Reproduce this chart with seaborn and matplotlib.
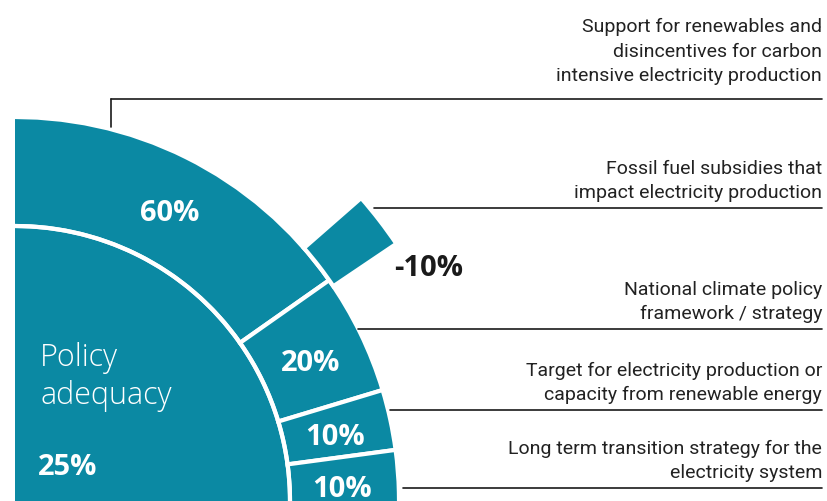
import numpy as np
import matplotlib
matplotlib.use("Agg")
import matplotlib.pyplot as plt
import seaborn as sns

# data
inner_label = "Policy adequacy"
inner_share = 25
outer_labels = [
    "Support for renewables and\ndisincentives for carbon\nintensive electricity production",
    "National climate policy\nframework / strategy",
    "Target for electricity production or\ncapacity from renewable energy",
    "Long term transition strategy for the\nelectricity system",
]
outer_shares = [60, 20, 10, 10]
neg_label = "Fossil fuel subsidies that\nimpact electricity production"
neg_share = -10

# look
teal = "#0B89A3"
deg_per_pct = 0.915
r_inner, r_outer, r_neg = 275, 384, 460
W, H = 827, 502
cx = 15  # pie centre (pixels from left, on the bottom edge)

sns.set_theme(style="white")
plt.rcParams["font.family"] = ["Open Sans", "DejaVu Sans"]

fig = plt.figure(figsize=(W / 100, H / 100), dpi=100)
S = 500
ax = fig.add_axes([(cx - S) / W, -S / H, 2 * S / W, 2 * S / H], projection="polar")
ax.set_ylim(0, S)
ax.set_axis_off()

# inner quarter, white rim drawn separately
ax.bar(np.deg2rad(40), r_inner, width=np.deg2rad(100), bottom=0,
       color=teal, linewidth=0)

# outer ring (first segment reaches a bit past 90 deg so the left edge stays flush)
ends = 90 - np.cumsum(outer_shares) * deg_per_pct
starts = np.r_[90, ends[:-1]]
starts[0] = 92
ends[-1] = -5
for a0, a1, pct in zip(starts, ends, outer_shares):
    ax.bar(np.deg2rad((a0 + a1) / 2), r_outer - r_inner, width=np.deg2rad(a0 - a1),
           bottom=r_inner, color=teal, edgecolor="white", linewidth=3)
    mid = (min(a0, 90) + max(a1, -1.5)) / 2 - 0.8
    ax.text(np.deg2rad(mid), 327, f"{pct}%", color="white", fontsize=21,
            fontweight="bold", ha="center", va="center")
rim = np.deg2rad(np.linspace(-5, 95, 200))
ax.plot(rim, np.full_like(rim, r_inner), color="white", lw=3)

# negative piece, pushed outside the ring
neg_a0, neg_w = 34.0, 7.2
ax.bar(np.deg2rad(neg_a0 + neg_w / 2), r_neg - r_outer, width=np.deg2rad(neg_w),
       bottom=r_outer, color=teal, edgecolor="white", linewidth=3)
ax.text(np.deg2rad(29.5), 475, f"{neg_share}%", color="#1a1a1a", fontsize=21,
        fontweight="bold", ha="center", va="center")

# overlay in pixel coordinates for labels and leaders
ov = fig.add_axes([0, 0, 1, 1])
ov.set_xlim(0, W)
ov.set_ylim(H, 0)
ov.set_axis_off()
ov.patch.set_alpha(0)
# white strip left of the pie centre
ov.axvspan(0, cx, color="white", lw=0)

ov.text(40, 377, inner_label.replace(" ", "\n"), color="white", fontsize=22,
        fontweight="light", ha="left", va="center", linespacing=1.25)
ov.text(38, 468, f"{inner_share}%", color="white", fontsize=21,
        fontweight="bold", ha="left", va="center")

lab_font = ["Roboto", "DejaVu Sans"]
x_right = 822
leaders = [(100, 111, 15), (209, 374, 7), (330, 358, 7), (411, 390, 7), (489, 403, 7)]
texts = [outer_labels[0], neg_label, outer_labels[1], outer_labels[2], outer_labels[3]]
for (y, x0, off), txt in zip(leaders, texts):
    ov.plot([x0, x_right], [y, y], color="#1a1a1a", lw=1.2)
    ov.text(x_right, y - off, txt, family=lab_font, fontsize=14, color="#222222",
            ha="right", va="bottom", linespacing=1.45)
ov.plot([111, 111], [100, 128], color="#1a1a1a", lw=1.2)

fig.savefig("out.png", dpi=100)
